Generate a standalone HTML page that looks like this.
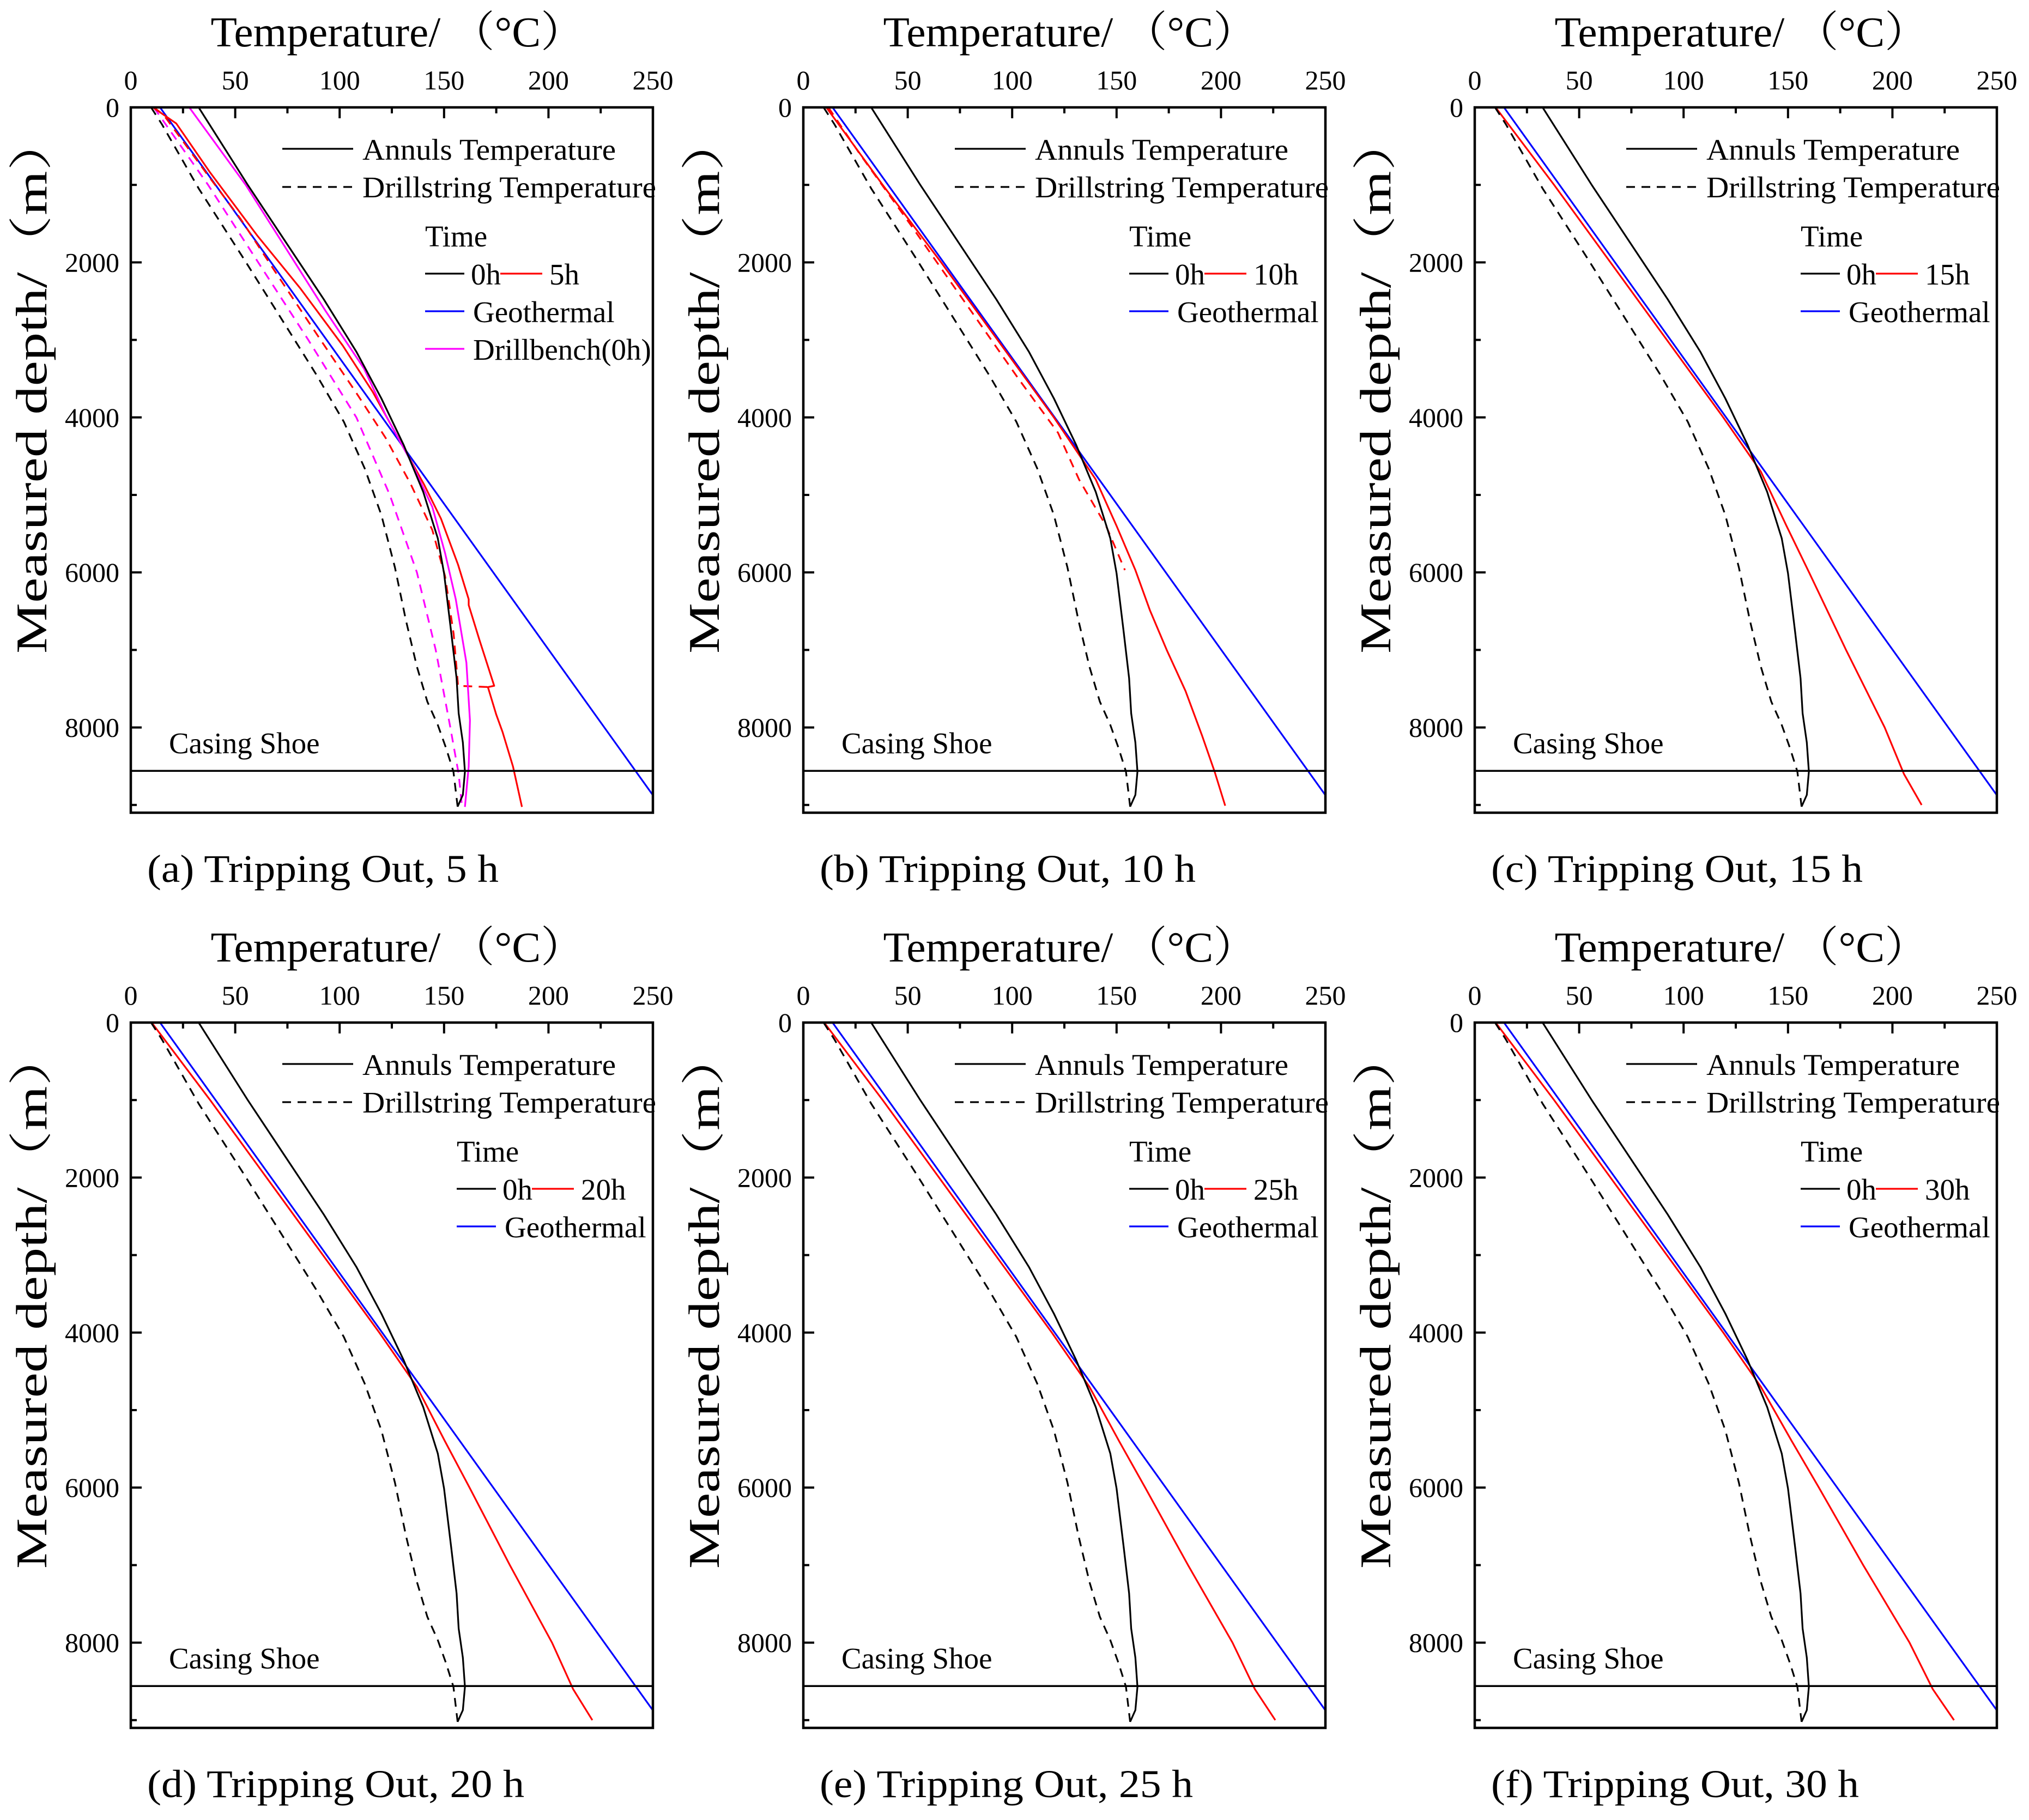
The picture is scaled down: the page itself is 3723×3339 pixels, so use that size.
<!DOCTYPE html>
<html><head><meta charset="utf-8">
<style>
html,body{margin:0;padding:0;background:#fff}
svg{display:block}
text{font-family:"Liberation Serif","Noto Serif CJK SC",serif;fill:#000}
</style></head>
<body>
<svg id="fig" xmlns="http://www.w3.org/2000/svg" width="3723" height="3339" viewBox="0 0 3723 3339">
<rect x="0" y="0" width="3723" height="3339" fill="#fff"/>
</svg>
<script>
// ---- data ----
const xTicks = [0,50,100,150,200,250];
const yTicks = [0,2000,4000,6000,8000];
const panelLetters = ['a','b','c','d','e','f'];
const panelHours = [5,10,15,20,25,30];
const casingShoeDepth = 8560;

const geoDepth = [0,9100];
const geoT = [14,256];

const annDepth = [0,1000,2476,3153,3755,4357,4959,5560,6012,6765,7366,7818,8194,8570,8871,9022];
const annT = [32.5,56,92.4,108,120,130.7,140,147,150,153.4,156,157,159,160,159,156.5];

const dsDepth = [0,218,1046,1949,2852,3454,4056,4658,5260,5937,6614,7216,7667,7968,8269,8570,9022];
const dsT = [9.7,14.9,32.5,54,75,89,102,112,120,126.5,131.7,137,142,147,151,154.5,156.5];

// panel (a) extra series
const red5Depth = [0,208,841,1659,2329,3073,3668,4263,4859,5305,5900,6347,6421,6868,7463,7480,7835,8058,8504,9025];
const red5T = [10.6,21.8,38,60.7,81,101.5,115.8,128,140.3,148.5,156.7,161.8,161.8,166.9,174,171,175,178,183,187.3];
const red5DashDepth = [0,97,915,1436,2106,2924,3668,4263,4859,5454,6049,6793,7463,7480];
const red5DashT = [11,15.7,38,52.5,68.8,89,107.6,122,134,144.4,150.5,154.6,156.7,172];
const magDepth = [0,1000,2627,3371,3966,4561,5156,5751,6347,7165,7909,8504,9025];
const magT = [28,55,93.3,111.7,122,134,144.4,150.5,155.6,160.7,162.4,161.8,160];
const magDashDepth = [0,1000,2000,3000,4000,5000,6000,7000,8000,8600,9000];
const magDashT = [11,37,61,85,108,124,137,146,153,157,158.5];

// panel (b) 10h
const red10Depth = [0,1000,2000,3000,4000,4800,5400,5970,6490,7000,7530,8110,8575,9010];
const red10T = [11,38,66,93,120,140,150,159,166,174,183,191,197,202];
const red10DashDepth = [0,600,1500,2500,3500,4200,4800,5400,5970];
const red10DashT = [12,27,51,77,103,122,132,145,154];

// panels (c)-(f)
const redDepth = [0,1000,2000,3000,4000,4700,5400,6000,7000,8000,8600,9000];
const red15T = [10,38,65,92,119,137,149.3,160.1,177.8,196.3,205.5,214];
const red20T = [10,38,65,92,119,137,150.4,162.2,181.5,201.7,211.8,221];
const red25T = [10,38,65,92,119,137,151.2,163.7,184.2,205.5,216.2,226];
const red30T = [10,38,65,92,119,137,151.8,164.8,186,208.2,219.3,229.5];

// ---- layout ----
const NS = 'http://www.w3.org/2000/svg';
const svg = document.getElementById('fig');
const colLeft = [240,1474,2706];
const rowTop = [197,1876];
const PW = 958, PH = 1294;
const XMAX = 250, YMAX = 9100;
const capLens = [645,690,682,692,685,675];

function el(tag, attrs, parent){
  const e = document.createElementNS(NS, tag);
  for (const k in attrs) e.setAttribute(k, attrs[k]);
  (parent||svg).appendChild(e);
  return e;
}

function drawPanel(idx){
  const L = colLeft[idx%3], T = rowTop[Math.floor(idx/3)];
  const sx = t => L + t/XMAX*PW;
  const sy = d => T + d/YMAX*PH;
  const g = el('g', {});
  
  

  const cid = 'clip' + idx;
  const cp = el('clipPath', {id: cid}, g);
  el('rect', {x:L, y:T, width:PW, height:PH}, cp);

  // title
  const title = el('text', {x: L+PW/2+10, y: T-112, 'font-size': 78, 'text-anchor':'middle', textLength: 685, lengthAdjust:'spacingAndGlyphs'}, g);
  title.textContent = 'Temperature/ （°C）';
  
  

  // y title
  const yt = el('text', {x: 0, y: 0, 'font-size': 80, 'text-anchor':'middle',
    transform: `translate(${L-155},${T+PH/2-140}) rotate(-90)`, textLength: 990, lengthAdjust: 'spacingAndGlyphs'}, g);
  yt.textContent = 'Measured depth/（m）';
  
  

  // ticks
  const tk = el('g', {stroke:'#000', 'stroke-width':4}, g);
  
  
  for (let v=0; v<=XMAX; v+=25){
    const major = v%50===0;
    el('line', {x1:sx(v), x2:sx(v), y1:T, y2:T+(major?20:11)}, tk);
  }
  for (let v=0; v<=9000; v+=1000){
    const major = v%2000===0;
    el('line', {x1:L, x2:L+(major?20:11), y1:sy(v), y2:sy(v)}, tk);
  }
  xTicks.forEach(v=>{
    const t = el('text', {x:sx(v), y:T-33, 'font-size':50, 'text-anchor':'middle'}, g);
    t.textContent = v;
    
    
  });
  yTicks.forEach(v=>{
    const t = el('text', {x:L-21, y:sy(v)+17, 'font-size':50, 'text-anchor':'end'}, g);
    t.textContent = v;
    
    
  });

  // series
  const sg = el('g', {'clip-path': `url(#${cid})`, fill:'none', 'stroke-width':3.2, 'stroke-linejoin':'round'}, g);
  function line(ds, ts, color, dashed, name){
    const pts = ds.map((d,i)=>sx(ts[i]).toFixed(1)+','+sy(d).toFixed(1)).join(' ');
    const p = el('polyline', {points: pts, stroke: color}, sg);
    if (dashed) p.setAttribute('stroke-dasharray', '16 12');
    
    
  }
  line(geoDepth, geoT, '#0000ff', false, 'geothermal-line');
  if (idx===0){
    line(magDashDepth, magDashT, '#ff00ff', true, 'drillbench-drillstring-line');
    line(red5DashDepth, red5DashT, '#ff0000', true, 'drillstring-5h-line');
    line(red5Depth, red5T, '#ff0000', false, 'annulus-5h-line');
    line(magDepth, magT, '#ff00ff', false, 'drillbench-annulus-line');
  } else if (idx===1){
    line(red10DashDepth, red10DashT, '#ff0000', true, 'drillstring-10h-line');
    line(red10Depth, red10T, '#ff0000', false, 'annulus-10h-line');
  } else {
    const arr = [null,null,red15T,red20T,red25T,red30T][idx];
    line(redDepth, arr, '#ff0000', false, 'annulus-' + panelHours[idx] + 'h-line');
  }
  line(dsDepth, dsT, '#000', true, 'drillstring-0h-line');
  line(annDepth, annT, '#000', false, 'annulus-0h-line');

  // casing shoe
  const cs = el('line', {x1:L, x2:L+PW, y1:sy(casingShoeDepth), y2:sy(casingShoeDepth), stroke:'#000', 'stroke-width':3.5}, g);
  
  
  const cst = el('text', {x:L+70, y:sy(casingShoeDepth)-32, 'font-size':55}, g);
  cst.textContent = 'Casing Shoe';
  
  

  // frame
  const fr = el('rect', {x:L, y:T, width:PW, height:PH, fill:'none', stroke:'#000', 'stroke-width':4.5}, g);
  
  

  // legend
  const lg = el('g', {}, g);
  
  
  const lx = L + 278;
  el('line', {x1:lx, x2:lx+130, y1:T+76, y2:T+76, stroke:'#000', 'stroke-width':3.2}, lg);
  let t = el('text', {x:lx+147, y:T+96, 'font-size':55, textLength:465, lengthAdjust:'spacingAndGlyphs'}, lg); t.textContent = 'Annuls Temperature';
  el('line', {x1:lx, x2:lx+130, y1:T+146, y2:T+146, stroke:'#000', 'stroke-width':3.2, 'stroke-dasharray':'16 12'}, lg);
  t = el('text', {x:lx+147, y:T+165, 'font-size':55, textLength:539, lengthAdjust:'spacingAndGlyphs'}, lg); t.textContent = 'Drillstring Temperature';
  const tx = L + (idx===0 ? 540 : 598);
  t = el('text', {x:tx, y:T+255, 'font-size':55}, lg); t.textContent = 'Time';
  el('line', {x1:tx, x2:tx+72, y1:T+305, y2:T+305, stroke:'#000', 'stroke-width':3.2}, lg);
  t = el('text', {x:tx+84, y:T+325, 'font-size':55}, lg); t.textContent = '0h';
  el('line', {x1:tx+138, x2:tx+215, y1:T+305, y2:T+305, stroke:'#ff0000', 'stroke-width':3.2}, lg);
  t = el('text', {x:tx+228, y:T+325, 'font-size':55}, lg); t.textContent = panelHours[idx] + 'h';
  el('line', {x1:tx, x2:tx+72, y1:T+374, y2:T+374, stroke:'#0000ff', 'stroke-width':3.2}, lg);
  t = el('text', {x:tx+88, y:T+394, 'font-size':55}, lg); t.textContent = 'Geothermal';
  if (idx===0){
    el('line', {x1:tx, x2:tx+72, y1:T+443, y2:T+443, stroke:'#ff00ff', 'stroke-width':3.2}, lg);
    t = el('text', {x:tx+88, y:T+463, 'font-size':55}, lg); t.textContent = 'Drillbench(0h)';
  }

  // caption
  const cap = el('text', {x:L+30, y:T+PH+127, 'font-size':72, textLength: capLens[idx], lengthAdjust:'spacingAndGlyphs'}, g);
  cap.textContent = '(' + panelLetters[idx] + ') Tripping Out, ' + panelHours[idx] + ' h';
  
  
}
for (let i=0;i<6;i++) drawPanel(i);
</script>
</body></html>
